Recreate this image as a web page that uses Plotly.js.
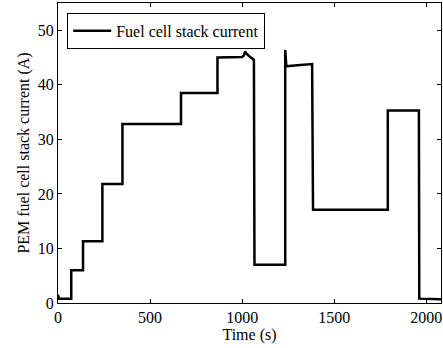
<!DOCTYPE html>
<html>
<head>
<meta charset="utf-8">
<script src="https://cdn.plot.ly/plotly-3.0.1.min.js"></script>
<style>html,body{margin:0;padding:0;background:#fff;}#chart{width:443px;height:348px;}</style>
</head>
<body>
<div id="chart"></div>
<script>
var timeS = [0, 5, 72, 72, 136, 136, 241, 241, 350, 350, 668, 668, 866, 866, 1000, 1010, 1016, 1024, 1040, 1058, 1064, 1067, 1234, 1234, 1240, 1300, 1380, 1385, 1791, 1791, 1960, 1962, 2080];
var currentA = [1.5, 0.8, 0.8, 6.0, 6.0, 11.3, 11.3, 21.8, 21.8, 32.8, 32.8, 38.5, 38.5, 45.0, 45.1, 45.4, 46.1, 45.7, 45.2, 44.8, 44.6, 7.0, 7.0, 46.4, 43.4, 43.6, 43.8, 17.1, 17.1, 35.3, 35.3, 0.8, 0.7];
var xTicks = [0, 500, 1000, 1500, 2000];
var yTicks = [0, 10, 20, 30, 40, 50];
var seriesName = "Fuel cell stack current";

var fam = "Liberation Serif";
function mkFont() { return {family: fam, size: 16, color: "#000000"}; }
function axisBase() {
  return {
    showline: true, linecolor: "#000", linewidth: 1, mirror: "ticks",
    ticks: "inside", ticklen: 4, tickcolor: "#000", tickwidth: 1,
    showgrid: false, zeroline: false, tickfont: mkFont()
  };
}
var layout = {
  width: 443, height: 348,
  margin: {l: 58, r: 2, t: 3, b: 45},
  paper_bgcolor: "#fff", plot_bgcolor: "#fff",
  font: mkFont(),
  showlegend: true,
  legend: {x: 0.024, y: 0.967, xanchor: "left", yanchor: "top", bordercolor: "#000", borderwidth: 1, bgcolor: "#fff", font: mkFont(), itemwidth: 38},
  xaxis: Object.assign(axisBase(), {range: [0, 2080], tickvals: xTicks, title: {text: "Time (s)", font: mkFont(), standoff: 2}}),
  yaxis: Object.assign(axisBase(), {range: [0, 55], tickvals: yTicks, title: {text: "PEM fuel cell stack current (A)", font: mkFont(), standoff: 4}})
};
Plotly.newPlot("chart", [{
  x: timeS, y: currentA, type: "scatter", mode: "lines", name: seriesName,
  line: {color: "#000", width: 2.5}
}], layout, {staticPlot: true});
</script>
</body>
</html>
